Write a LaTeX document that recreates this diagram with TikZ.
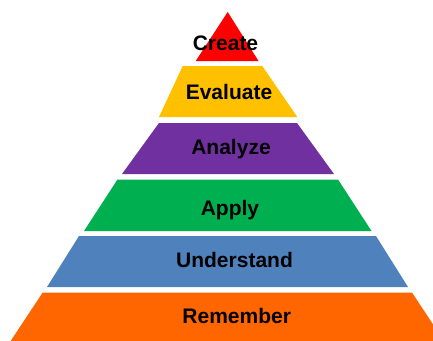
\documentclass[tikz,border=0pt]{standalone}
\usepackage{fontspec}
\setmainfont{Liberation Sans}
\definecolor{lvlcreate}{HTML}{FF0000}
\definecolor{lvlevaluate}{HTML}{FFC000}
\definecolor{lvlanalyze}{HTML}{7030A0}
\definecolor{lvlapply}{HTML}{00B050}
\definecolor{lvlunderstand}{HTML}{4F81BD}
\definecolor{lvlremember}{HTML}{FF6600}
\begin{document}
\begin{tikzpicture}[x=1pt,y=-1pt,
  band/.style={draw=none},
  lbl/.style={anchor=base, font=\bfseries\fontsize{21}{21}\selectfont, text=black, inner sep=0pt}]
\useasboundingbox (0,0) rectangle (433,340);
\clip (0,0) rectangle (433,340);
% pyramid levels, top to bottom
\fill[band, lvlcreate]     (227.7,12) -- (258.5,61) -- (195.7,61) -- cycle;
\fill[band, lvlevaluate]   (182.7,66) -- (262.3,66) -- (297.3,117) -- (159,117) -- cycle;
\fill[band, lvlanalyze]    (159,123) -- (297,123) -- (334,174) -- (122,174) -- cycle;
\fill[band, lvlapply]      (117.5,179.5) -- (338,179.5) -- (371.5,231) -- (84,231) -- cycle;
\fill[band, lvlunderstand] (79,236) -- (376,236) -- (408,287) -- (47,287) -- cycle;
\fill[band, lvlremember]   (42.7,292.5) -- (412,292.5) -- (446.6,345) -- (8,345) -- cycle;
% level labels
\node[lbl] (create)     at (225.5,50)  {Create};
\node[lbl] (evaluate)   at (229,99)    {Evaluate};
\node[lbl] (analyze)    at (231,154.5) {Analyze};
\node[lbl] (apply)      at (230,215.5) {Apply};
\node[lbl] (understand) at (234.5,267) {Understand};
\node[lbl] (remember)   at (236.7,323) {Remember};
\end{tikzpicture}
\end{document}
